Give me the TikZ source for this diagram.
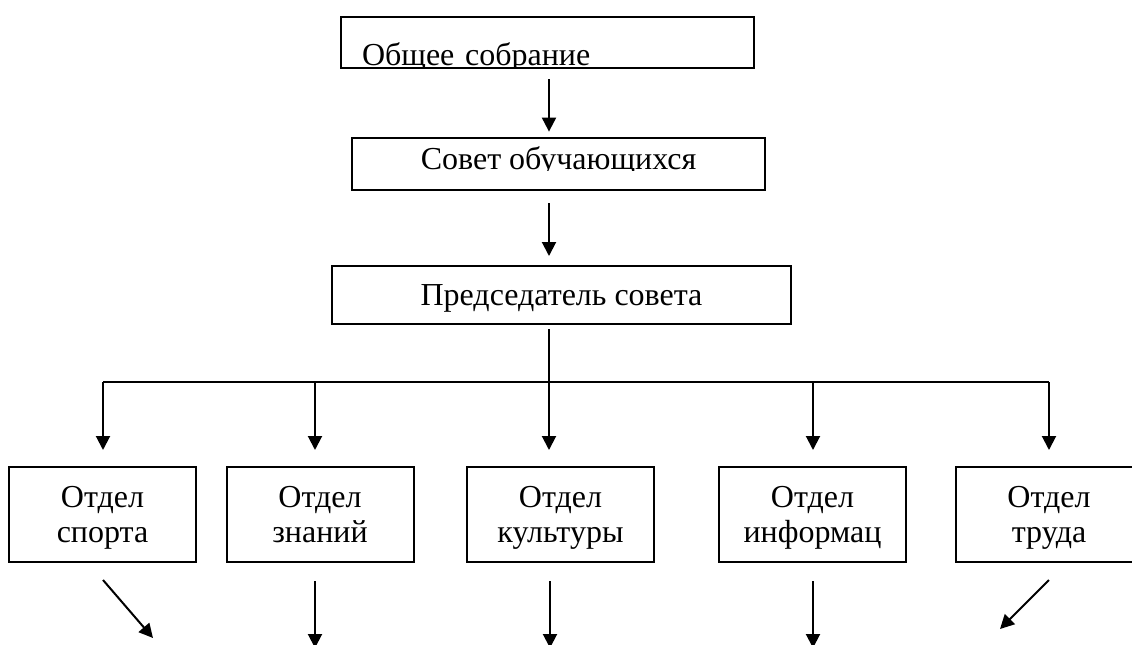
\documentclass[tikz,border=0pt]{standalone}
\usepackage{fontspec}
\setmainfont{Liberation Serif}
\usepackage{tikz}
\usetikzlibrary{calc}
\usetikzlibrary{arrows.meta}
\tikzset{wideBox/.style={inner sep=0pt, minimum width=206.5pt, font=\fontsize{16}{17.5}\selectfont}}
\tikzset{chairBox/.style={draw, line width=1pt, inner sep=0pt, minimum width=229.5pt, text height=19.5pt, text depth=9.5pt, font=\fontsize{16}{17.5}\selectfont}}
\tikzset{deptBox/.style={draw, line width=1pt, inner sep=0pt, minimum width=93.5pt, text width=90pt, align=center, text height=20pt, text depth=27.5pt, font=\fontsize{16}{17.5}\selectfont}}
\tikzset{myArrow/.style={-{Triangle[length=7pt, width=7pt]}, line width=1pt}}
\tikzset{myLine/.style={line width=1pt}}

\begin{document}
\begin{tikzpicture}[x=0.5pt, y=-0.5pt]

\useasboundingbox (0,0) rectangle (1132,644);
\clip (0,0) rectangle (1132,644);

\begin{scope}
\clip (341,17) rectangle (754,67);
\node[wideBox, text width=185.5pt, align=left, inner xsep=10.5pt, text height=24.25pt, text depth=1.25pt] (sobr) at (547.5,42.5) {Общее собрание};
\end{scope}
\draw[myLine] (sobr.south west) rectangle (sobr.north east);

\begin{scope}
\clip (352,138) rectangle (765,170.5);
\node[wideBox, text height=15.5pt, text depth=10.5pt] (sovet) at (558.5,164) {Совет обучающихся};
\end{scope}
\draw[myLine] (sovet.south west) rectangle (sovet.north east);

\node[chairBox] (chair) at (561.5,295) {Председатель совета};

\node[deptBox] (d1) at (102.5,514.5) {Отдел\\спорта};
\node[deptBox] (d2) at (320,514.5) {Отдел\\знаний};
\node[deptBox] (d3) at (560.5,514.5) {Отдел\\культуры};
\node[deptBox] (d4) at (812.5,514.5) {Отдел\\информац};
\node[deptBox] (d5) at (1049,514.5) {Отдел\\труда};

\coordinate (b1) at (103,382);
\coordinate (b2) at (315,382);
\coordinate (b3) at (549,382);
\coordinate (b4) at (813,382);
\coordinate (b5) at (1049,382);

\coordinate (e1) at (153,638);
\coordinate (e2) at (315,648);
\coordinate (e3) at (550,648);
\coordinate (e4) at (813,648);
\coordinate (e5) at (1000,629);

\draw[myArrow, shorten <=5.5pt, shorten >=3pt] (sobr.south -| b3) to (sovet.north -| b3);
\draw[myArrow, shorten <=6.5pt, shorten >=4.5pt] (sovet.south -| b3) to (chair.north -| b3);
\draw[myLine, shorten <=2pt] (chair.south -| b3) to (b3);
\draw[myLine] (b1) -- (b5);

\foreach \i in {1,...,5}
  \draw[myArrow, shorten >=8pt] (b\i) to (b\i |- d\i.north);

\draw[myArrow] ($(d1.south -| b1)+(0,17)$) to (e1);
\draw[myArrow, shorten <=9pt] (d2.south -| e2) to (e2);
\draw[myArrow, shorten <=9pt] (d3.south -| e3) to (e3);
\draw[myArrow, shorten <=9pt] (d4.south -| e4) to (e4);
\draw[myArrow] ($(d5.south -| b5)+(0,17)$) to (e5);

\end{tikzpicture}
\end{document}
